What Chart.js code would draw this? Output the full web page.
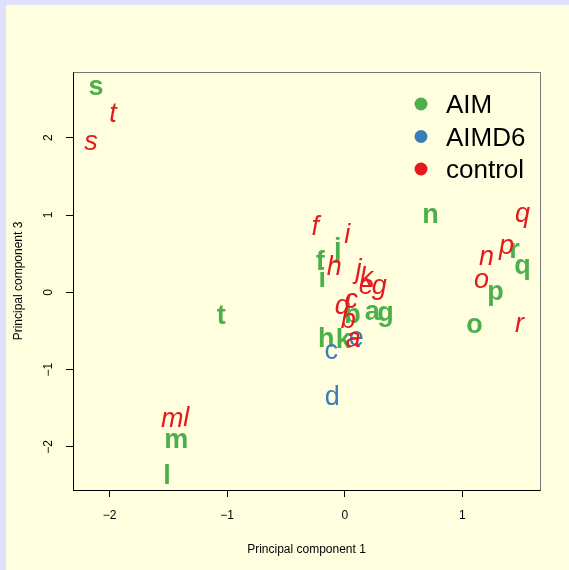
<!DOCTYPE html>
<html><head><meta charset="utf-8">
<script src="https://cdn.jsdelivr.net/npm/chart.js@4.4.1/dist/chart.umd.min.js"></script>
<style>
html,body{margin:0;padding:0;background:#e0e0ff;width:569px;height:570px;overflow:hidden}
#wrap{position:absolute;left:6px;top:5px;width:563px;height:565px;background:#ffffe0}
canvas{display:block}
</style></head><body>
<div id="wrap"><canvas id="c" width="563" height="565"></canvas></div>
<script>
// ---- data ----
const seriesNames = ['AIM', 'AIMD6', 'control'];
const seriesColors = ['#4daf4a', '#377eb8', '#e41a1c'];

const aimLabels = ['a','b','f','g','h','i','j','k','l','m','n','o','p','q','r','s','t'];
const aimX = [0.235, 0.065, -0.208, 0.346, -0.157, -0.191, -0.059, -0.012, -1.510, -1.433, 0.729, 1.103, 1.282, 1.511, 1.443, -2.114, -1.050];
const aimY = [-0.259, -0.272, 0.414, -0.310, -0.582, 0.194, 0.543, -0.595, -2.354, -1.915, 0.996, -0.427, -0.039, 0.298, 0.543, 2.652, -0.285];

const aimd6Labels = ['c','d','e'];
const aimd6X = [-0.114, -0.106, 0.099];
const aimd6Y = [-0.763, -1.332, -0.595];

const controlLabels = ['a','b','c','d','e','f','g','h','i','j','k','l','m','n','o','p','q','r','s','t'];
const controlX = [0.073, 0.031, 0.056, -0.020, 0.184, -0.250, 0.294, -0.089, 0.022, 0.116, 0.184, -1.348, -1.467, 1.205, 1.163, 1.375, 1.511, 1.486, -2.157, -1.969];
const controlY = [-0.608, -0.336, -0.103, -0.155, 0.078, 0.867, 0.039, 0.349, 0.763, 0.272, 0.207, -1.604, -1.643, 0.453, 0.155, 0.556, 0.970, -0.414, 1.940, 2.329];

const xTicks = [-2, -1, 0, 1];
const yTicks = [-2, -1, 0, 1, 2];
const xTitle = 'Principal component 1';
const yTitle = 'Principal component 3';

// ---- build ----
const FAMILY = '"Liberation Sans", Arial, Helvetica, sans-serif';
const pts = (xs, ys) => xs.map((x, i) => ({x, y: ys[i]}));
const groups = [
  {labels: aimLabels, data: pts(aimX, aimY), font: 'bold'},
  {labels: aimd6Labels, data: pts(aimd6X, aimd6Y), font: 'normal'},
  {labels: controlLabels, data: pts(controlX, controlY), font: 'italic'}
];
const fmt = v => (v < 0 ? '\u2212' + Math.abs(v) : String(v));

const letterPlugin = {
  id: 'letters',
  afterDatasetsDraw(chart) {
    const ctx = chart.ctx;
    ctx.save();
    chart.data.datasets.forEach((ds, di) => {
      const meta = chart.getDatasetMeta(di);
      ctx.fillStyle = ds.borderColor;
      ctx.font = ds.letterFont + ' 27px ' + FAMILY;
      ctx.textAlign = 'center';
      ctx.textBaseline = 'alphabetic';
      meta.data.forEach((el, i) => {
        const t = ds.letters[i];
        const m = ctx.measureText(t);
        const by = el.y + (m.actualBoundingBoxAscent - m.actualBoundingBoxDescent) / 2;
        ctx.fillText(t, el.x, by);
      });
    });
    ctx.restore();
  },
  afterDraw(chart) {
    const ctx = chart.ctx;
    const a = chart.chartArea;
    ctx.save();
    // top/right box edges
    ctx.strokeStyle = '#777777';
    ctx.lineWidth = 1;
    ctx.beginPath();
    ctx.moveTo(Math.round(a.left) + 0.5, Math.round(a.top) + 0.5);
    ctx.lineTo(Math.round(a.right) + 0.5, Math.round(a.top) + 0.5);
    ctx.lineTo(Math.round(a.right) + 0.5, Math.round(a.bottom) + 0.5);
    ctx.stroke();
    // legend
    ctx.font = '26px ' + FAMILY;
    ctx.textAlign = 'left';
    ctx.textBaseline = 'alphabetic';
    chart.data.datasets.forEach((ds, i) => {
      const cy = 99 + 32.5 * i;
      ctx.fillStyle = ds.borderColor;
      ctx.beginPath();
      ctx.arc(415, cy, 6.5, 0, Math.PI * 2);
      ctx.fill();
      ctx.fillStyle = '#000';
      ctx.fillText(ds.label, 440, cy + 9);
    });
    ctx.restore();
  }
};

new Chart(document.getElementById('c'), {
  type: 'scatter',
  data: {
    datasets: groups.map((g, i) => ({
      label: seriesNames[i],
      data: g.data,
      letters: g.labels,
      letterFont: g.font,
      borderColor: seriesColors[i],
      backgroundColor: seriesColors[i],
      pointRadius: 0,
      pointHoverRadius: 0
    }))
  },
  options: {
    responsive: false,
    animation: false,
    devicePixelRatio: 1,
    events: [],
    layout: {padding: {left: 0, top: 67, right: 29, bottom: 0}},
    plugins: {legend: {display: false}, tooltip: {enabled: false}},
    scales: {
      x: {
        type: 'linear', min: -2.31, max: 1.66,
        afterBuildTicks: s => { s.ticks = xTicks.map(v => ({value: v})); },
        afterFit: s => { s.height = 80; },
        grid: {drawOnChartArea: false, drawTicks: true, tickLength: 7, color: '#000'},
        border: {display: true, color: '#000', width: 1},
        ticks: {color: '#000', font: {family: FAMILY, size: 12}, padding: 11, maxRotation: 0, autoSkip: false, callback: v => fmt(v)},
        title: {display: true, text: xTitle, color: '#000', font: {family: FAMILY, size: 12}, padding: {top: 0, bottom: 13}}
      },
      y: {
        type: 'linear', min: -2.557, max: 2.85,
        afterBuildTicks: s => { s.ticks = yTicks.map(v => ({value: v})); },
        afterFit: s => { s.width = 67; },
        grid: {drawOnChartArea: false, drawTicks: true, tickLength: 7, color: '#000'},
        border: {display: true, color: '#000', width: 1},
        ticks: {color: '#000', font: {family: FAMILY, size: 12}, padding: 10, minRotation: 90, maxRotation: 90, crossAlign: 'center', autoSkip: false, callback: v => fmt(v)},
        title: {display: true, text: yTitle, color: '#000', font: {family: FAMILY, size: 12}, padding: {top: 5, bottom: 0}}
      }
    }
  },
  plugins: [letterPlugin]
});
</script>
</body></html>
